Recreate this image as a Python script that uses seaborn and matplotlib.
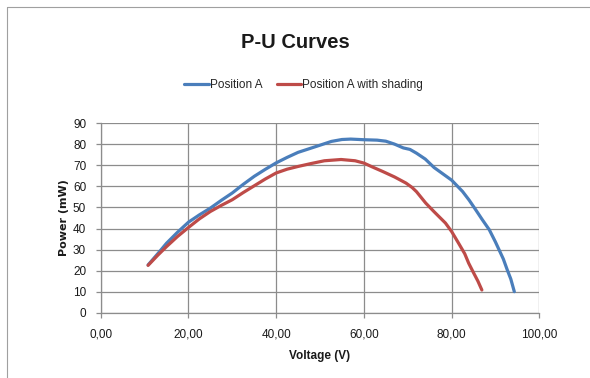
import matplotlib
matplotlib.use("Agg")
import matplotlib.pyplot as plt
import seaborn as sns
import pandas as pd
from matplotlib.lines import Line2D

# ---- data ----
volt_a = [10.8, 13, 15, 17.5, 20, 22.5, 25, 27.5, 30, 32.5, 35, 37.5, 40, 42.5, 45, 47.5,
          50, 52.6, 55, 57, 60, 63, 65, 67, 69, 70.5, 72, 74, 76, 78, 80, 82.5,
          84, 85.5, 87, 88.6, 90, 90.8, 91.8, 92.7, 93.5, 94.3]
power_a = [22.7, 28, 33, 38.2, 43, 46.5, 49.7, 53.4, 56.9, 61, 64.8, 68.1, 71.2, 73.8, 76.2, 77.9,
           79.6, 81.4, 82.3, 82.5, 82.2, 82.0, 81.5, 80.1, 78.3, 77.6, 75.8, 73.0, 69.0, 66.0, 63.0, 57.6,
           53.5, 48.9, 44.2, 39.4, 33.6, 30, 25.5, 20.3, 16, 10]
volt_s = [10.8, 13, 15, 17.5, 20, 22.5, 25, 27.5, 30, 32.5, 35, 37.5, 40, 42.5, 45, 48,
          51, 54.8, 58, 60, 62, 64.3, 67, 69.6, 71, 72, 74.1, 76, 78.6, 80, 81.6,
          83, 83.9, 85, 86, 86.9]
power_s = [22.5, 27.3, 31.4, 36.2, 40.5, 44.6, 48.1, 51.0, 53.7, 57.1, 60.3, 63.5, 66.4, 68.2, 69.5, 70.9,
           72.2, 72.8, 72.2, 71.1, 69.2, 67.1, 64.5, 61.6, 59.5, 57.5, 52.1, 48.0, 42.6, 38.6, 33,
           28, 23.5, 19, 15, 10.8]
series_names = ["Position A", "Position A with shading"]
x_ticks = [0, 20, 40, 60, 80, 100]
x_tick_labels = ["0,00", "20,00", "40,00", "60,00", "80,00", "100,00"]
y_ticks = [0, 10, 20, 30, 40, 50, 60, 70, 80, 90]

df = pd.concat([
    pd.DataFrame({"V": volt_a, "P": power_a, "series": series_names[0]}),
    pd.DataFrame({"V": volt_s, "P": power_s, "series": series_names[1]}),
])

sns.set_theme(style="white")
plt.rcParams["font.family"] = ["Liberation Sans", "DejaVu Sans"]

fig = plt.figure(figsize=(5.9, 3.78), dpi=100)
ax = fig.add_axes([0.1707, 0.1727, 0.9141 - 0.1707, 0.6738 - 0.1727])

palette = {series_names[0]: "#4A7EBB", series_names[1]: "#BE4B48"}
sns.lineplot(data=df, x="V", y="P", hue="series", palette=palette, sort=False,
             estimator=None, linewidth=2.3, ax=ax, legend=False)

ax.set_xlim(0, 100)
ax.set_ylim(0, 90)
ax.set_xticks(x_ticks)
ax.set_xticklabels(x_tick_labels)
ax.set_yticks(y_ticks)
grid_c = "#8c8c8c"
ax.grid(True, color=grid_c, linewidth=0.9)
ax.set_axisbelow(True)
for s in ["top", "right"]:
    ax.spines[s].set_visible(False)
for s in ["left", "bottom"]:
    ax.spines[s].set_color(grid_c)
    ax.spines[s].set_linewidth(0.9)
ax.tick_params(axis="both", which="major", direction="out", length=3.5, width=0.9,
               color=grid_c, labelsize=8.5, labelcolor="#1a1a1a",
               bottom=True, left=True)
ax.tick_params(axis="y", pad=7)
ax.tick_params(axis="x", pad=8)

ax.set_xlabel("Voltage (V)", fontsize=8.5, fontweight="bold", color="#1a1a1a", labelpad=7)
ax.set_ylabel("Power (mW)", fontsize=8, fontweight="bold", color="#1a1a1a",
              family=["DejaVu Sans"], labelpad=3)

fig.text(0.5, 1 - 42 / 378, "P-U Curves", ha="center", va="center",
         fontsize=14.5, fontweight="bold", color="#1a1a1a")

handles = [Line2D([], [], color=palette[n], linewidth=2.3) for n in series_names]
fig.legend(handles, series_names, loc="center", bbox_to_anchor=(303.5 / 590, 1 - 85 / 378),
           ncol=2, frameon=False, fontsize=8.5, handlelength=2.1, handletextpad=0.1,
           columnspacing=1.2, borderpad=0, borderaxespad=0)

# chart border (top and left visible)
fig.add_artist(Line2D([7 / 590, 1], [1 - 7 / 378, 1 - 7 / 378], color="#a0a0a0",
                      linewidth=0.8, transform=fig.transFigure))
fig.add_artist(Line2D([7 / 590, 7 / 590], [0, 1 - 7 / 378], color="#a0a0a0",
                      linewidth=0.8, transform=fig.transFigure))

fig.savefig("out.png", dpi=100, facecolor="white")
